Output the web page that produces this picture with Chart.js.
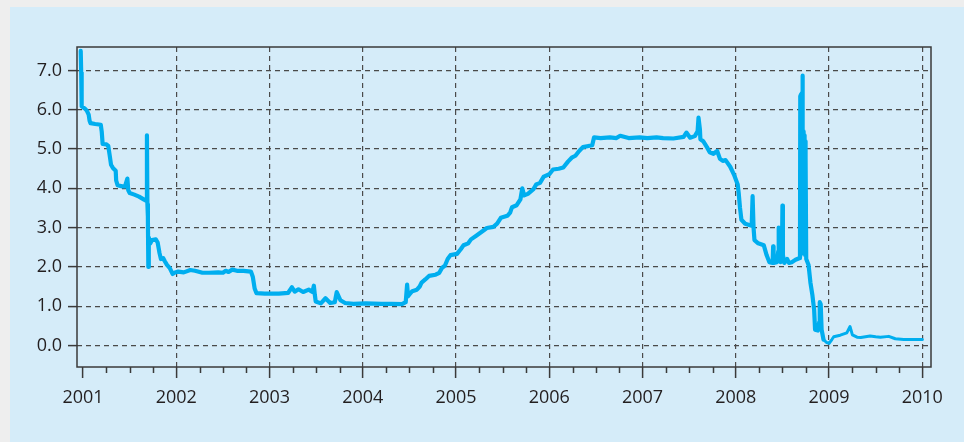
<!DOCTYPE html>
<html>
<head>
<meta charset="utf-8">
<script src="https://cdn.jsdelivr.net/npm/chart.js@4.4.1/dist/chart.umd.min.js"></script>
<style>
    body { margin: 0; background: #eeeeee; width: 964px; height: 442px; overflow: hidden; }
    #panel { position: absolute; left: 10px; top: 7px; width: 954px; height: 435px; background: #d5ecf9; }
</style>
</head>
<body>
<div id="panel"><canvas id="rateChart" width="954" height="435"></canvas></div>
<script>
// Effective rate (decimal year, percent)
const years = [
    2000.975, 2000.98, 2000.985, 2001.02, 2001.04, 2001.06, 2001.07, 2001.08, 2001.13, 2001.19,
    2001.2, 2001.21, 2001.25, 2001.27, 2001.285, 2001.3, 2001.32, 2001.35, 2001.355, 2001.37,
    2001.42, 2001.45, 2001.475, 2001.485, 2001.5, 2001.55, 2001.6, 2001.65, 2001.68, 2001.685,
    2001.69, 2001.695, 2001.7, 2001.705, 2001.72, 2001.74, 2001.78, 2001.8, 2001.82, 2001.835,
    2001.86, 2001.875, 2001.9, 2001.93, 2001.96, 2001.98, 2002.02, 2002.08, 2002.15, 2002.2,
    2002.28, 2002.35, 2002.45, 2002.5, 2002.53, 2002.56, 2002.6, 2002.65, 2002.72, 2002.8,
    2002.82, 2002.84, 2002.86, 2002.95, 2003.1, 2003.2, 2003.24, 2003.27, 2003.31, 2003.36,
    2003.42, 2003.46, 2003.475, 2003.485, 2003.495, 2003.55, 2003.6, 2003.65, 2003.7, 2003.72,
    2003.76, 2003.81, 2003.9, 2004.03, 2004.2, 2004.31, 2004.42, 2004.46, 2004.475, 2004.485,
    2004.5, 2004.53, 2004.58, 2004.61, 2004.63, 2004.67, 2004.71, 2004.78, 2004.82, 2004.85,
    2004.88, 2004.91, 2004.94, 2005.01, 2005.05, 2005.08, 2005.13, 2005.16, 2005.22, 2005.29,
    2005.33, 2005.4, 2005.44, 2005.48, 2005.55, 2005.58, 2005.6, 2005.65, 2005.69, 2005.71,
    2005.73, 2005.77, 2005.83, 2005.86, 2005.9, 2005.94, 2006.0, 2006.04, 2006.1, 2006.15,
    2006.2, 2006.24, 2006.28, 2006.32, 2006.36, 2006.42, 2006.46, 2006.48, 2006.55, 2006.65,
    2006.72, 2006.76, 2006.85, 2006.97, 2007.05, 2007.15, 2007.22, 2007.33, 2007.44, 2007.47,
    2007.51, 2007.56, 2007.59, 2007.6, 2007.615, 2007.62, 2007.65, 2007.69, 2007.72, 2007.76,
    2007.8, 2007.83, 2007.86, 2007.89, 2007.94, 2007.98, 2008.02, 2008.03, 2008.045, 2008.06,
    2008.1, 2008.17, 2008.18, 2008.19, 2008.2, 2008.24, 2008.3, 2008.33, 2008.36, 2008.395,
    2008.4, 2008.405, 2008.44, 2008.455, 2008.46, 2008.465, 2008.48, 2008.495, 2008.5, 2008.505,
    2008.52, 2008.55, 2008.57, 2008.6, 2008.64, 2008.68,
    2008.688, 2008.691, 2008.694, 2008.697, 2008.700, 2008.703, 2008.706, 2008.709, 2008.712, 2008.715,
    2008.718, 2008.721, 2008.724, 2008.727, 2008.730, 2008.733, 2008.736, 2008.739, 2008.742, 2008.745,
    2008.748, 2008.751, 2008.755,
    2008.78, 2008.8, 2008.82, 2008.84, 2008.85, 2008.88, 2008.895, 2008.9, 2008.91, 2008.92,
    2008.94, 2008.97, 2009.0, 2009.03, 2009.05, 2009.12, 2009.19, 2009.225, 2009.25, 2009.3,
    2009.34, 2009.44, 2009.5, 2009.55, 2009.64, 2009.71, 2009.8, 2010.0
];
const rates = [
    7.5, 6.95, 6.09, 6.03, 5.98, 5.88, 5.72, 5.66, 5.64, 5.62,
    5.45, 5.13, 5.12, 5.08, 4.85, 4.6, 4.52, 4.45, 4.2, 4.08,
    4.05, 4.05, 4.25, 3.95, 3.88, 3.84, 3.79, 3.72, 3.68, 5.35,
    3.6, 3.3, 2.0, 2.75, 2.6, 2.68, 2.7, 2.62, 2.35, 2.2,
    2.22, 2.15, 2.05, 1.97, 1.82, 1.85, 1.88, 1.86, 1.92, 1.9,
    1.85, 1.85, 1.86, 1.85, 1.9, 1.87, 1.93, 1.9, 1.9, 1.88,
    1.75, 1.45, 1.33, 1.32, 1.32, 1.34, 1.48, 1.37, 1.43, 1.36,
    1.42, 1.36, 1.52, 1.3, 1.12, 1.07, 1.2, 1.08, 1.1, 1.36,
    1.15, 1.08, 1.06, 1.07, 1.06, 1.06, 1.05, 1.1, 1.55, 1.25,
    1.3, 1.38, 1.42, 1.5, 1.6, 1.68, 1.77, 1.8, 1.85, 1.98,
    2.03, 2.2, 2.3, 2.33, 2.45, 2.55, 2.6, 2.7, 2.8, 2.92,
    2.99, 3.02, 3.1, 3.25, 3.3, 3.38, 3.52, 3.57, 3.72, 4.0,
    3.82, 3.86, 3.98, 4.1, 4.14, 4.3, 4.36, 4.48, 4.5, 4.53,
    4.68, 4.78, 4.83, 4.95, 5.05, 5.08, 5.1, 5.3, 5.28, 5.3,
    5.28, 5.34, 5.28, 5.3, 5.28, 5.3, 5.28, 5.27, 5.31, 5.42,
    5.29, 5.33, 5.45, 5.8, 5.5, 5.25, 5.2, 5.05, 4.92, 4.88,
    4.95, 4.75, 4.7, 4.72, 4.55, 4.35, 4.1, 3.9, 3.5, 3.2,
    3.1, 3.05, 3.8, 3.0, 2.68, 2.6, 2.55, 2.3, 2.12, 2.1,
    2.52, 2.1, 2.12, 2.4, 3.0, 2.3, 2.12, 2.5, 3.56, 2.3,
    2.1, 2.2, 2.1, 2.12, 2.18, 2.22,
    2.25, 6.35, 2.3, 6.38, 2.35, 6.4, 2.35, 6.42, 2.4, 6.87,
    2.4, 5.45, 2.4, 5.4, 2.35, 5.35, 2.35, 5.3, 2.3, 5.2,
    2.3, 4.8, 2.2,
    2.05, 1.6, 1.3, 0.9, 0.4, 0.38, 0.6, 1.1, 1.05, 0.4,
    0.15, 0.08, 0.05, 0.15, 0.22, 0.26, 0.32, 0.48, 0.27, 0.21,
    0.2, 0.24, 0.22, 0.21, 0.23, 0.17, 0.15, 0.15
];

// Axis ticks
const yearTicks = [2001, 2002, 2003, 2004, 2005, 2006, 2007, 2008, 2009, 2010];
const rateTicks = [0, 1, 2, 3, 4, 5, 6, 7];

const points = years.map((yr, i) => ({ x: yr, y: rates[i] }));

// frame round the plot area + quarterly minor ticks on the x axis
const framePlugin = {
    id: 'frame',
    afterDraw(chart) {
        const { ctx, chartArea: a } = chart;
        const xs = chart.scales.x;
        ctx.save();
        ctx.strokeStyle = '#3a3a3a';
        ctx.lineWidth = 1.5;
        ctx.strokeRect(a.left, a.top, a.right - a.left, a.bottom - a.top);
        ctx.beginPath();
        yearTicks.slice(0, -1).forEach(yr => {
            [0.25, 0.5, 0.75].forEach(q => {
                const px = Math.round(xs.getPixelForValue(yr + q)) + 0.5;
                ctx.moveTo(px, a.bottom);
                ctx.lineTo(px, a.bottom + 6);
            });
        });
        ctx.stroke();
        ctx.restore();
    }
};

Chart.defaults.font.family = '"Open Sans", "Noto Sans", sans-serif';
Chart.defaults.font.size = 18;
Chart.defaults.color = '#231f20';

new Chart(document.getElementById('rateChart'), {
    type: 'line',
    data: {
        datasets: [{
            data: points,
            borderColor: '#00aeef',
            borderWidth: 4.2,
            borderJoinStyle: 'round',
            borderCapStyle: 'round',
            pointRadius: 0,
            fill: false,
            tension: 0,
            // the line is thinner after the 2008 collapse
            segment: {
                borderWidth: c => c.p0.parsed.x > 2008.93 ? 3 : 4.2
            }
        }]
    },
    options: {
        responsive: false,
        animation: false,
        layout: { padding: { top: 40, right: 33, left: 0, bottom: 0 } },
        plugins: { legend: { display: false }, tooltip: { enabled: false } },
        scales: {
            x: {
                type: 'linear',
                min: 2000.935,
                max: 2010.093,
                afterBuildTicks: s => { s.ticks = yearTicks.map(v => ({ value: v })); },
                afterFit: s => { s.height = 75; },
                ticks: { padding: 9, callback: v => String(v), maxRotation: 0, autoSkip: false },
                grid: {
                    color: c => (c.tick && c.tick.value === 2001) ? 'rgba(0,0,0,0)' : '#4a4a4a',
                    lineWidth: 1.2,
                    tickLength: 11,
                    tickColor: '#3a3a3a',
                    tickWidth: 1.5
                },
                border: { display: false, dash: [5, 4] }
            },
            y: {
                min: -0.55,
                max: 7.6,
                afterBuildTicks: s => { s.ticks = rateTicks.map(v => ({ value: v })); },
                afterFit: s => { s.width = 67; },
                ticks: { padding: 6, callback: v => v.toFixed(1) },
                grid: {
                    color: '#4a4a4a',
                    lineWidth: 1.2,
                    tickLength: 9,
                    tickColor: '#3a3a3a',
                    tickWidth: 1.5
                },
                border: { display: false, dash: [5, 4] }
            }
        }
    },
    plugins: [framePlugin]
});
</script>
</body>
</html>
